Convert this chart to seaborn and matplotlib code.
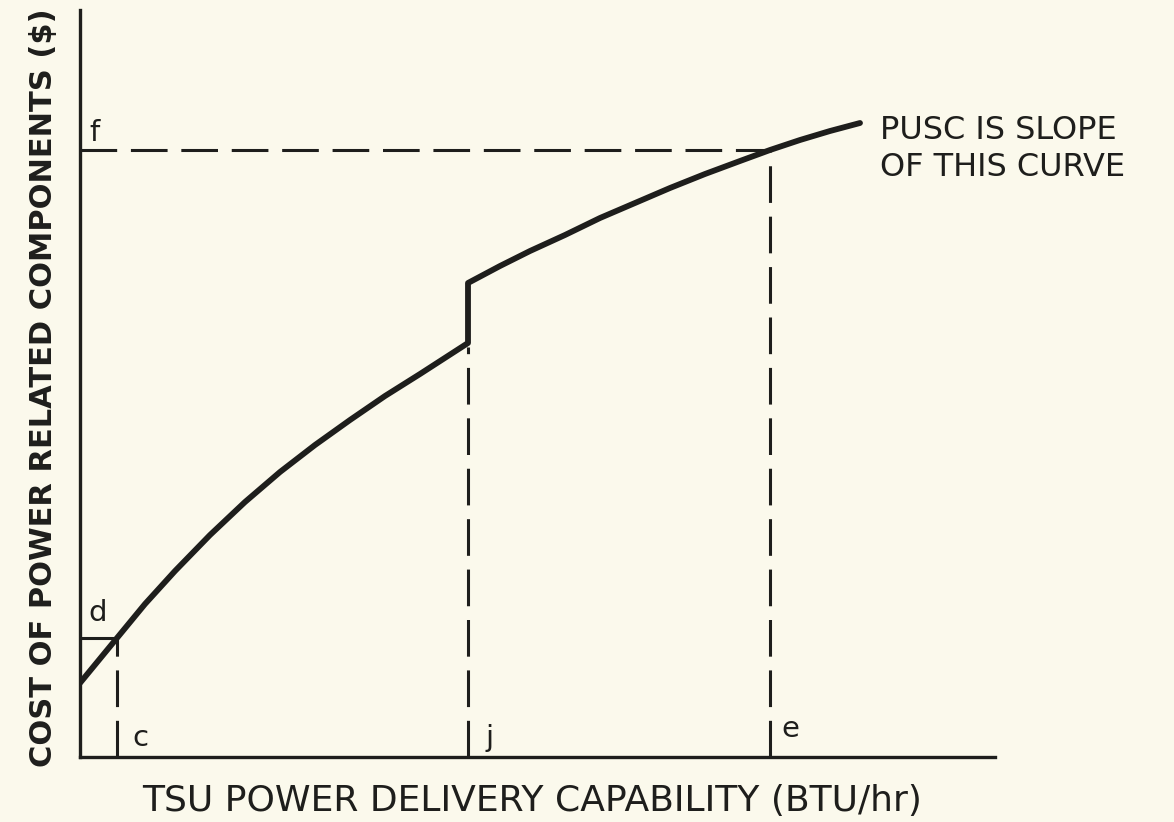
import numpy as np
import pandas as pd
import matplotlib
matplotlib.use("Agg")
import matplotlib.pyplot as plt
import seaborn as sns

# curve (arbitrary units)
x_lower = [0, 3.7, 6.5, 9.5, 13.0, 16.5, 20.0, 23.5, 27.0, 30.5, 34.0, 38.8]
y_lower = [7.4, 11.9, 15.3, 18.6, 22.2, 25.5, 28.5, 31.2, 33.7, 36.1, 38.3, 41.4]
x_upper = [38.8, 42.0, 45.0, 48.5, 52.0, 55.5, 59.0, 62.5, 66.0, 69.0, 72.0, 75.0, 78.0]
y_upper = [47.4, 49.1, 50.6, 52.2, 53.9, 55.4, 56.9, 58.3, 59.6, 60.7, 61.7, 62.6, 63.4]

# marked points
pt_c, pt_d = 3.7, 11.9
pt_j, pt_j_top = 38.8, 41.0
pt_e, pt_f = 69.0, 60.7

bg = "#fbf9ec"
ink = "#1e1e1c"

sns.set_style("white")
plt.rcParams["font.family"] = ["DejaVu Sans"]

fig = plt.figure(figsize=(11.74, 8.22), dpi=100, facecolor=bg)
ax = fig.add_axes([80 / 1174, 65 / 822, 915 / 1174, 747 / 822])
ax.set_facecolor(bg)

curve = pd.DataFrame({"x": x_lower + x_upper, "y": y_lower + y_upper})
sns.lineplot(data=curve, x="x", y="y", sort=False, estimator=None,
             color=ink, linewidth=4.2, ax=ax, solid_capstyle="round",
             solid_joinstyle="round")

dash_kw = dict(color=ink, linewidth=2.2, dashes=(12, 4.5))
ax.plot([0, pt_c], [pt_d, pt_d], **dash_kw)
ax.plot([pt_c, pt_c], [0, pt_d], **dash_kw)
ax.plot([pt_j, pt_j], [0, pt_j_top], **dash_kw)
ax.plot([pt_e, pt_e], [0, pt_f], **dash_kw)
ax.plot([0, pt_e], [pt_f, pt_f], **dash_kw)

ax.set_xlim(0, 91.5)
ax.set_ylim(0, 74.7)
ax.set_xticks([])
ax.set_yticks([])
sns.despine(ax=ax)
for s in ["left", "bottom"]:
    ax.spines[s].set_linewidth(2.4)
    ax.spines[s].set_color(ink)

lab = dict(fontsize=21, color=ink, ha="center", va="center")
ax.text(1.4, 62.4, "f", **lab)
ax.text(1.8, 14.4, "d", **lab)
ax.text(6.0, 1.9, "c", **lab)
ax.text(41.0, 1.9, "j", **lab)
ax.text(71.0, 2.8, "e", **lab)

ax.text(80.0, 60.8, "PUSC IS SLOPE\nOF THIS CURVE", ha="left", va="center",
        fontsize=23, color=ink, linespacing=1.25)

ax.set_xlabel("TSU POWER DELIVERY CAPABILITY (BTU/hr)", fontsize=26,
              color=ink)
ax.set_ylabel("COST OF POWER RELATED COMPONENTS ($)", fontsize=22,
              color=ink, fontweight="bold")
ax.xaxis.set_label_coords(0.494, -0.036)
ax.yaxis.set_label_coords(-0.024, 0.494)

fig.savefig("out.png", dpi=100, facecolor=bg)
